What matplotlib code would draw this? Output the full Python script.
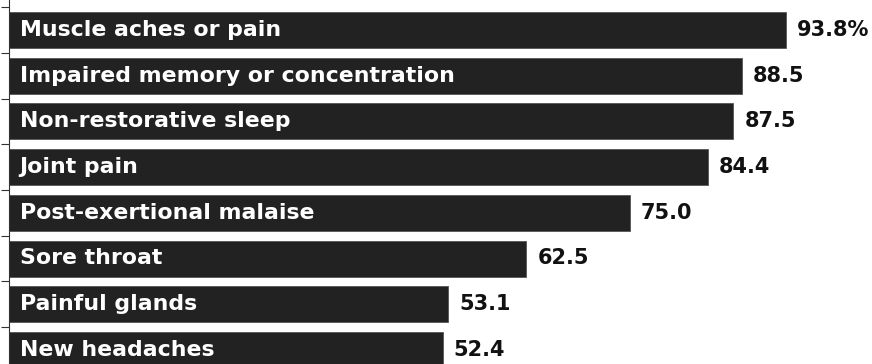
import matplotlib
matplotlib.use("Agg")
import matplotlib.pyplot as plt

categories = [
    "Muscle aches or pain",
    "Impaired memory or concentration",
    "Non-restorative sleep",
    "Joint pain",
    "Post-exertional malaise",
    "Sore throat",
    "Painful glands",
    "New headaches",
]
values = [93.8, 88.5, 87.5, 84.4, 75.0, 62.5, 53.1, 52.4]
value_labels = ["93.8%", "88.5", "87.5", "84.4", "75.0", "62.5", "53.1", "52.4"]

plt.rcParams['font.family'] = ['DejaVu Sans']

W, H, DPI = 872, 364, 100
fig = plt.figure(figsize=(W / DPI, H / DPI), dpi=DPI)
ax = fig.add_axes([0, 0, 1, 1])

px_per_unit = 8.285
x0_px = 8.5
spacing = 45.7
c0 = 30.0

ypos = list(range(len(categories)))
ax.barh(ypos, values, height=36 / spacing, color="#222222",
        edgecolor="#555555", linewidth=0.6, left=0)

for i, (cat, v, lab) in enumerate(zip(categories, values, value_labels)):
    ax.annotate(cat, xy=(0, i), xytext=(11, 0), textcoords="offset pixels",
                ha="left", va="center", color="white", fontsize=15.8,
                fontweight="bold")
    ax.annotate(lab, xy=(v, i), xytext=(11, 0), textcoords="offset pixels",
                ha="left", va="center", color="#111111", fontsize=15,
                fontweight="bold")

ax.set_xlim(-x0_px / px_per_unit, (W - x0_px) / px_per_unit)
ax.set_ylim((H - c0) / spacing, -c0 / spacing)

for s in ["top", "right", "bottom"]:
    ax.spines[s].set_visible(False)
ax.spines["left"].set_position(("data", 0))
ax.spines["left"].set_linewidth(0.8)
ax.spines["left"].set_color("#333333")
ax.set_xticks([])
ax.set_yticks([i - 0.5 for i in range(len(categories))])
ax.set_yticklabels([])
ax.tick_params(axis="y", direction="out", length=6, width=0.8, color="#333333")

fig.savefig("out.png", dpi=DPI)
